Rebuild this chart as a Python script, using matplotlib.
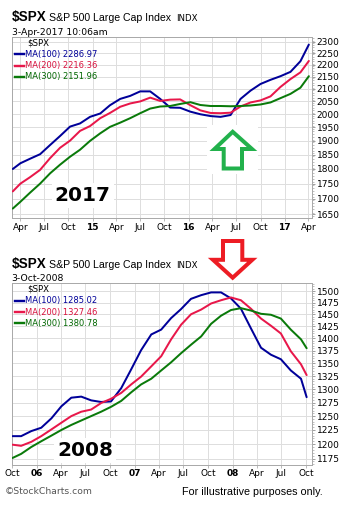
import matplotlib
matplotlib.use('Agg')
import matplotlib.pyplot as plt
import matplotlib.dates as mdates
from matplotlib.ticker import FixedLocator, NullFormatter, FixedFormatter
from matplotlib.patches import Polygon, Rectangle
from matplotlib.lines import Line2D
import pandas as pd

W, H, DPI = 342, 514, 72

# ---------------- data: 2014-2017 panel ----------------
top_dates = ['2014-03-03', '2014-04-01', '2014-05-08', '2014-06-15', '2014-07-23', '2014-08-30',
             '2014-10-07', '2014-11-14', '2014-12-22', '2015-01-30', '2015-03-08', '2015-04-16',
             '2015-05-24', '2015-07-01', '2015-08-08', '2015-09-15', '2015-10-23', '2015-11-30',
             '2016-01-08', '2016-02-15', '2016-03-25', '2016-05-02', '2016-06-09', '2016-07-17',
             '2016-08-24', '2016-10-01', '2016-11-08', '2016-12-16', '2017-01-23', '2017-03-02',
             '2017-04-03']
top_ma100 = [1800, 1820, 1836, 1852, 1885, 1918, 1953, 1965, 1990, 2003, 2035, 2060,
             2072, 2090, 2090, 2060, 2026, 2025, 2010, 2000, 1993, 1990, 1997, 2060,
             2093, 2120, 2137, 2152, 2170, 2215, 2287]
top_ma200 = [1724, 1750, 1772, 1797, 1838, 1875, 1901, 1937, 1955, 1985, 2005, 2029,
             2042, 2050, 2065, 2052, 2057, 2058, 2035, 2015, 2005, 2004, 2006, 2030,
             2046, 2054, 2070, 2108, 2140, 2168, 2216]
top_ma300 = [1668, 1690, 1720, 1750, 1785, 1815, 1843, 1868, 1900, 1928, 1952, 1968,
             1985, 2004, 2022, 2030, 2032, 2040, 2047, 2036, 2032, 2032, 2031, 2032,
             2034, 2038, 2046, 2063, 2080, 2105, 2152]
top_last = ['2286.97', '2216.36', '2151.96']
top_yticks = [1650, 1700, 1750, 1800, 1850, 1900, 1950, 2000, 2050, 2100, 2150, 2200, 2250, 2300]
top_xtick_dates = ['2014-04-01', '2014-07-01', '2014-10-01', '2015-01-01', '2015-04-01', '2015-07-01',
                   '2015-10-01', '2016-01-01', '2016-04-01', '2016-07-01', '2016-10-01', '2017-01-01',
                   '2017-04-01']
top_xtick_labels = ['Apr', 'Jul', 'Oct', '15', 'Apr', 'Jul', 'Oct', '16', 'Apr', 'Jul', 'Oct', '17', 'Apr']

# ---------------- data: 2005-2008 panel ----------------
bot_dates = ['2005-10-03', '2005-11-04', '2005-12-12', '2006-01-18', '2006-02-25', '2006-04-03',
             '2006-05-10', '2006-06-16', '2006-07-23', '2006-08-29', '2006-10-05', '2006-11-12',
             '2006-12-19', '2007-01-25', '2007-03-04', '2007-04-10', '2007-05-17', '2007-06-23',
             '2007-07-30', '2007-09-06', '2007-10-13', '2007-11-19', '2007-12-26', '2008-02-01',
             '2008-03-09', '2008-04-16', '2008-05-23', '2008-06-29', '2008-08-05', '2008-09-12',
             '2008-10-03']
bot_ma100 = [1214, 1214, 1223, 1229, 1246, 1268, 1284, 1286, 1279, 1276, 1277, 1302,
             1338, 1376, 1408, 1418, 1442, 1461, 1483, 1491, 1497, 1497, 1484, 1462,
             1421, 1381, 1367, 1358, 1336, 1320, 1285]
bot_ma200 = [1199, 1197, 1204, 1214, 1226, 1238, 1250, 1258, 1262, 1274, 1282, 1293,
             1309, 1324, 1344, 1364, 1398, 1428, 1450, 1460, 1473, 1480, 1486, 1480,
             1462, 1441, 1426, 1410, 1374, 1348, 1327]
bot_ma300 = [1176, 1183, 1195, 1205, 1215, 1225, 1234, 1242, 1250, 1258, 1267, 1278,
             1294, 1309, 1320, 1336, 1352, 1370, 1387, 1404, 1430, 1447, 1459, 1463,
             1458, 1451, 1449, 1441, 1418, 1398, 1380]
bot_last = ['1285.02', '1327.46', '1380.78']
bot_yticks = [1175, 1200, 1225, 1250, 1275, 1300, 1325, 1350, 1375, 1400, 1425, 1450, 1475, 1500]
bot_xtick_dates = ['2005-10-01', '2006-01-01', '2006-04-01', '2006-07-01', '2006-10-01', '2007-01-01',
                   '2007-04-01', '2007-07-01', '2007-10-01', '2008-01-01', '2008-04-01', '2008-07-01',
                   '2008-10-01']
bot_xtick_labels = ['Oct', '06', 'Apr', 'Jul', 'Oct', '07', 'Apr', 'Jul', 'Oct', '08', 'Apr', 'Jul', 'Oct']

ma_names = ['MA(100)', 'MA(200)', 'MA(300)']
line_colors = ['#000099', '#e8174a', '#0a7a0a']
text_colors = ['#000099', '#d8103c', '#006600']

# ---------------- figure ----------------
fig = plt.figure(figsize=(W / DPI, H / DPI), dpi=DPI)
fig.patch.set_facecolor('white')


def fx(x):
    return x / W


def fy(y):
    return 1 - y / H


FRAME = '#aaaaaa'
GRID = '#dedede'
YEARGRID = '#bdbdbd'


def panel(rect_px, dates, series, last_vals, yticks, ylim, xlim, xt_dates, xt_labels,
          title_base, date_text, date_base, big_label, big_xy):
    x0, y0, x1, y1 = rect_px
    ax = fig.add_axes([fx(x0), fy(y1), (x1 - x0) / W, (y1 - y0) / H])
    d = pd.to_datetime(dates)
    for s, c in zip(series, line_colors):
        ax.plot(d, s, color=c, lw=2.0, zorder=3, solid_capstyle='round')
    ax.set_yscale('log')
    ax.set_ylim(*ylim)
    ax.set_xlim(pd.Timestamp(xlim[0]), pd.Timestamp(xlim[1]))
    ax.yaxis.tick_right()
    ax.yaxis.set_major_locator(FixedLocator(yticks))
    ax.yaxis.set_major_formatter(FixedFormatter([str(v) for v in yticks]))
    step = yticks[1] - yticks[0]
    minors = list(range(int(ylim[0]) // 5 * 5, int(ylim[1]) + 1, step // 5))
    ax.yaxis.set_minor_locator(FixedLocator(minors))
    ax.yaxis.set_minor_formatter(NullFormatter())
    xt = [mdates.date2num(pd.Timestamp(t)) for t in xt_dates]
    ax.xaxis.set_major_locator(FixedLocator(xt))
    ax.xaxis.set_major_formatter(FixedFormatter(xt_labels))
    ax.xaxis.set_minor_locator(FixedLocator([]))
    ax.tick_params(axis='y', which='major', length=3, width=0.8, color='#888888', pad=1.5,
                   labelsize=9, labelcolor='black')
    ax.tick_params(axis='y', which='minor', length=1.5, width=0.6, color='#999999')
    ax.tick_params(axis='x', which='major', length=3, width=0.8, color='#aaaaaa', pad=1.5,
                   labelsize=9, labelcolor='black')
    for lab in ax.get_xticklabels():
        lab.set_fontfamily('DejaVu Sans')
        if lab.get_text().isdigit():
            lab.set_fontweight('bold')
    for lab in ax.get_yticklabels():
        lab.set_fontfamily('DejaVu Sans')
    ax.grid(True, which='major', color=GRID, lw=1.0, zorder=0)
    for t, l in zip(xt, xt_labels):
        if l.isdigit():
            ax.axvline(t, color=YEARGRID, lw=1.0, zorder=0.5)
    for sp in ax.spines.values():
        sp.set_color(FRAME)
        sp.set_linewidth(1.0)
    # legend box (white, covers grid)
    ax.add_patch(Rectangle((0, 1 - 46 / (y1 - y0)), 90 / (x1 - x0), 46 / (y1 - y0),
                           transform=ax.transAxes, facecolor='white', edgecolor='none', zorder=1))
    # legend
    fig.text(fx(27), fy(y0 + 6), '$SPX', fontsize=8.6, family='DejaVu Sans', color='black',
             va='center', ha='left')
    for i, (nm, v) in enumerate(zip(ma_names, last_vals)):
        yy = y0 + 17.5 + i * 11.3
        fig.add_artist(Line2D([fx(15), fx(23.5)], [fy(yy), fy(yy)], color=line_colors[i], lw=2.4,
                              transform=fig.transFigure))
        fig.text(fx(25), fy(yy), f'{nm} {v}', fontsize=8.4, family='DejaVu Sans',
                 color=text_colors[i], va='center', ha='left')
    # big year label
    fig.text(fx(big_xy[0]), fy(big_xy[1]), big_label, fontsize=20, fontweight='bold',
             family='DejaVu Sans', color='black', ha='center', va='center',
             bbox=dict(facecolor='white', edgecolor='none', pad=3))
    # title lines
    fig.text(fx(11.5), fy(title_base), '$SPX', fontsize=13.5, fontweight='bold',
             family='Liberation Sans', va='baseline', ha='left')
    fig.text(fx(49), fy(title_base), 'S&P 500 Large Cap Index', fontsize=10.5,
             family='Liberation Sans', va='baseline', ha='left')
    fig.text(fx(176.5), fy(title_base), 'INDX', fontsize=8.6, family='DejaVu Sans',
             va='baseline', ha='left')
    fig.text(fx(11.5), fy(date_base), date_text, fontsize=9.2, family='DejaVu Sans',
             va='baseline', ha='left')
    return ax


panel((12, 36.7, 312, 218.3), top_dates, [top_ma100, top_ma200, top_ma300], top_last,
      top_yticks, (1637, 2322), ('2014-02-28', '2017-04-15'), top_xtick_dates, top_xtick_labels,
      20.7, '3-Apr-2017 10:06am', 35, '2017', (82.5, 195.5))

panel((12, 283.3, 312, 465), bot_dates, [bot_ma100, bot_ma200, bot_ma300], bot_last,
      bot_yticks, (1164, 1517), ('2005-10-01', '2008-10-23'), bot_xtick_dates, bot_xtick_labels,
      267.7, '3-Oct-2008', 281, '2008', (85, 450))

# ---------------- arrows ----------------
fig.add_artist(Rectangle((fx(207), fy(174)), 51 / W, 49 / H, transform=fig.transFigure,
                         facecolor='white', edgecolor='none', zorder=5))
green = [(232.7, 131.8), (252, 149), (242, 149), (242, 168.5), (223.7, 168.5), (223.7, 149), (214.5, 149)]
fig.add_artist(Polygon([(fx(a), fy(b)) for a, b in green], closed=True, transform=fig.transFigure,
                       facecolor='white', edgecolor='#22b14c', lw=4, joinstyle='miter', zorder=6))
red = [(223, 241), (242.3, 241), (242.3, 259.8), (252.3, 259.8), (232.7, 277.7), (213, 259.8), (223, 259.8)]
fig.add_artist(Polygon([(fx(a), fy(b)) for a, b in red], closed=True, transform=fig.transFigure,
                       facecolor='white', edgecolor='#ed1c24', lw=4, joinstyle='miter', zorder=6))

# ---------------- footer ----------------
fig.text(fx(4.5), fy(491.5), '\u00a9StockCharts.com', fontsize=9.2, family='DejaVu Sans',
         color='#555555', va='center', ha='left')
fig.text(fx(181.5), fy(492.3), 'For illustrative purposes only.', fontsize=10.8,
         family='Liberation Sans', color='black', va='center', ha='left')

fig.savefig('out.png', dpi=DPI, facecolor='white')
